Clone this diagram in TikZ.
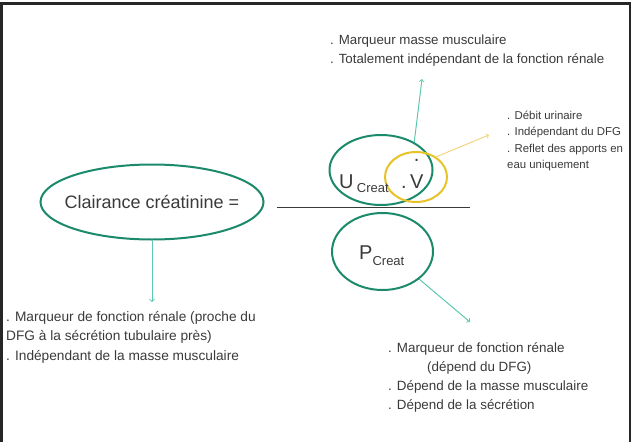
\documentclass[tikz,border=0pt]{standalone}
\usepackage{fontspec}
\setmainfont{Liberation Sans}
\usetikzlibrary{shapes.geometric}

\definecolor{vertfonce}{HTML}{1B8A6B}
\definecolor{vertclair}{HTML}{5CC9AE}
\definecolor{jaune}{HTML}{E8C229}
\definecolor{jauneclair}{HTML}{F2D57E}
\definecolor{gristexte}{HTML}{3A3A3A}

\tikzstyle{bulle} = [ellipse, draw=vertfonce, line width=2pt, inner sep=0pt]
\tikzstyle{bulle2} = [ellipse, draw=jaune, line width=2pt, inner sep=0pt]
\tikzstyle{fleche} = [->, draw=vertclair, line width=1pt]
\tikzstyle{fleche2} = [->, draw=jauneclair, line width=1pt]
\tikzstyle{note} = [anchor=north west, inner sep=0pt, align=left, text=gristexte]

\begin{document}
\begin{tikzpicture}[x=1pt, y=-1pt, auto]
    \useasboundingbox (0,0) rectangle (636,442);

    % cadre
    \draw[line width=2.5pt, black!85] (1.7,442) -- (1.7,3.7) -- (630,3.7) -- (630,442);

    %  nodes
    \node [bulle, minimum width=223, minimum height=75, label={[text=gristexte, font=\fontsize{18}{21}\selectfont]center:Clairance créatinine =}] (clair) at (152,202) {};
    \node [bulle, minimum width=103, minimum height=70] (U) at (381,170) {};
    \node [bulle2, minimum width=62, minimum height=50] (V) at (416,177) {};
    \node [bulle, minimum width=101, minimum height=77] (P) at (382.5,251.5) {};

    \node [anchor=base west, inner sep=0pt, text=gristexte] (Utxt) at (339,188)
        {\fontsize{20}{24}\selectfont U\,\raisebox{-4pt}{\fontsize{13}{15}\selectfont Creat}};
    \node [anchor=base west, inner sep=0pt, text=gristexte] (Vtxt) at (401,188)
        {\fontsize{20}{24}\selectfont .\,\ooalign{V\cr\hidewidth\raisebox{27pt}{.}\hidewidth\cr}};
    \node [anchor=base west, inner sep=0pt, text=gristexte] (Ptxt) at (359,259)
        {\fontsize{20}{24}\selectfont P\raisebox{-6pt}{\fontsize{13}{15}\selectfont Creat}};

    \coordinate (barreG) at (277,207);
    \coordinate (barreD) at (470,207);
    \draw[line width=1pt, gristexte] (barreG) -- (barreD);

   %-------------------------------------------------------------
    \node[note, font=\fontsize{13.3}{18.5}\selectfont] (haut) at (330,35)
        {. Marqueur masse musculaire\\. Totalement indépendant de la fonction rénale};
    \node[note, font=\fontsize{11.4}{16.5}\selectfont] (droite) at (507,110.5)
        {. Débit urinaire\\. Indépendant du DFG\\. Reflet des apports en\\eau uniquement};
    \node[note, font=\fontsize{13.7}{19.5}\selectfont] (gauche) at (6,311)
        {. Marqueur de fonction rénale (proche du\\DFG à la sécrétion tubulaire près)\\. Indépendant de la masse musculaire};
    \node[note, font=\fontsize{13.4}{19}\selectfont] (bas) at (388,342)
        {. Marqueur de fonction rénale\\\hspace*{39pt}(dépend du DFG)\\. Dépend de la masse musculaire\\. Dépend de la sécrétion};

   %-------------------------------------------------------------
    \coordinate (pointeH) at (422,79);
    \coordinate (pointeJ) at (489,135);
    \coordinate (pointeG) at (152,302);
    \coordinate (pointeB) at (470,322);

    \draw[fleche] (U.40) -- (pointeH);
    \draw[fleche2] (V.45) -- (pointeJ);
    \draw[fleche] (clair.south) -- (pointeG);
    \draw[fleche] (P.-37) -- (pointeB);

\end{tikzpicture}
\end{document}
